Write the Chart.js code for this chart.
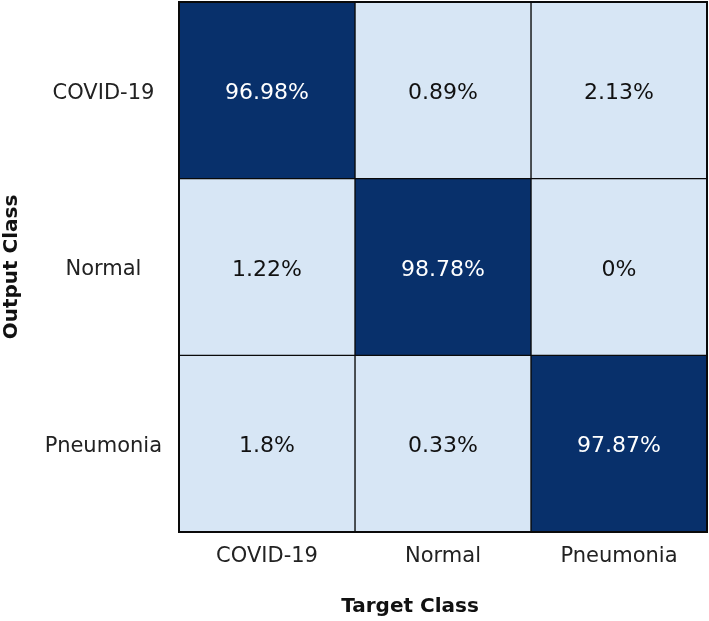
<!DOCTYPE html>
<html>
<head>
<meta charset="utf-8">
<script src="https://cdn.jsdelivr.net/npm/chart.js@4/dist/chart.umd.min.js"></script>
<style>
  html, body { margin: 0; padding: 0; background: #ffffff; }
  #wrap { width: 709px; height: 621px; position: relative; }
</style>
</head>
<body>
<div id="wrap"><canvas id="c" width="709" height="621"></canvas></div>
<script>
// Output classes (rows) and target classes (columns)
const outputClasses = ['COVID-19', 'Normal', 'Pneumonia'];
const targetClasses = ['COVID-19', 'Normal', 'Pneumonia'];
// Percentages, one array per output class (row)
const rowCovid = [96.98, 0.89, 2.13];
const rowNormal = [1.22, 98.78, 0];
const rowPneumonia = [1.8, 0.33, 97.87];
const matrix = [rowCovid, rowNormal, rowPneumonia];

const DARK = '#08306b';
const LIGHT = '#d7e6f5';
const FONT = "'DejaVu Sans', Verdana, sans-serif";

const datasets = targetClasses.map((t, j) => ({
  label: t,
  data: outputClasses.map(() => [j, j + 1]),
  values: outputClasses.map((_, i) => matrix[i][j]),
  backgroundColor: outputClasses.map((_, i) => matrix[i][j] > 50 ? DARK : LIGHT),
  borderColor: '#0a0a0a',
  borderWidth: 1,
  borderSkipped: false,
  grouped: false,
  barPercentage: 1,
  categoryPercentage: 1
}));

const cellLabels = {
  id: 'cellLabels',
  afterDatasetsDraw(chart) {
    const ctx = chart.ctx;
    const a = chart.chartArea;
    ctx.save();
    ctx.strokeStyle = '#0a0a0a';
    ctx.lineWidth = 2;
    ctx.strokeRect(a.left, a.top, a.right - a.left, a.bottom - a.top);
    ctx.font = '22px ' + FONT;
    ctx.textAlign = 'center';
    ctx.textBaseline = 'middle';
    chart.data.datasets.forEach((ds, di) => {
      const meta = chart.getDatasetMeta(di);
      meta.data.forEach((el, i) => {
        const v = ds.values[i];
        const p = el.getCenterPoint();
        ctx.fillStyle = v > 50 ? '#ffffff' : '#111111';
        ctx.fillText(v + '%', p.x, p.y + 3);
      });
    });
    ctx.restore();
  }
};

const xTitle = {
  id: 'xTitle',
  afterDraw(chart) {
    const ctx = chart.ctx;
    const a = chart.chartArea;
    ctx.save();
    ctx.font = 'bold 20px ' + FONT;
    ctx.fillStyle = '#111111';
    ctx.textAlign = 'center';
    ctx.textBaseline = 'middle';
    ctx.fillText('Target Class', (a.left + a.right) / 2 - 33, a.bottom + 75);
    ctx.restore();
  }
};

new Chart(document.getElementById('c'), {
  type: 'bar',
  data: { labels: outputClasses, datasets },
  options: {
    indexAxis: 'y',
    responsive: false,
    animation: false,
    layout: { padding: { top: 2, right: 2, left: 0, bottom: 0 } },
    plugins: { legend: { display: false }, tooltip: { enabled: false } },
    scales: {
      x: {
        type: 'linear',
        min: 0,
        max: targetClasses.length,
        afterBuildTicks: (axis) => { axis.ticks = targetClasses.map((_, i) => ({ value: i + 0.5 })); },
        afterFit: (axis) => { axis.height = 89; axis.paddingLeft = 0; axis.paddingRight = 0; },
        grid: { display: false, drawTicks: false },
        border: { display: false },
        ticks: {
          autoSkip: false,
          maxRotation: 0,
          padding: 12,
          color: '#222222',
          font: { family: FONT, size: 21 },
          callback: (v) => targetClasses[Math.floor(v)]
        }
      },
      y: {
        type: 'category',
        afterFit: (axis) => { axis.width = 179; axis.paddingTop = 0; axis.paddingBottom = 0; },
        grid: { display: false, drawTicks: false },
        border: { display: false },
        ticks: {
          crossAlign: 'center',
          padding: 17,
          labelOffset: 3,
          color: '#222222',
          font: { family: FONT, size: 21 }
        },
        title: {
          display: true,
          text: 'Output Class',
          color: '#111111',
          padding: 0,
          font: { family: FONT, size: 20, weight: 'bold' }
        }
      }
    }
  },
  plugins: [cellLabels, xTitle]
});
</script>
</body>
</html>
